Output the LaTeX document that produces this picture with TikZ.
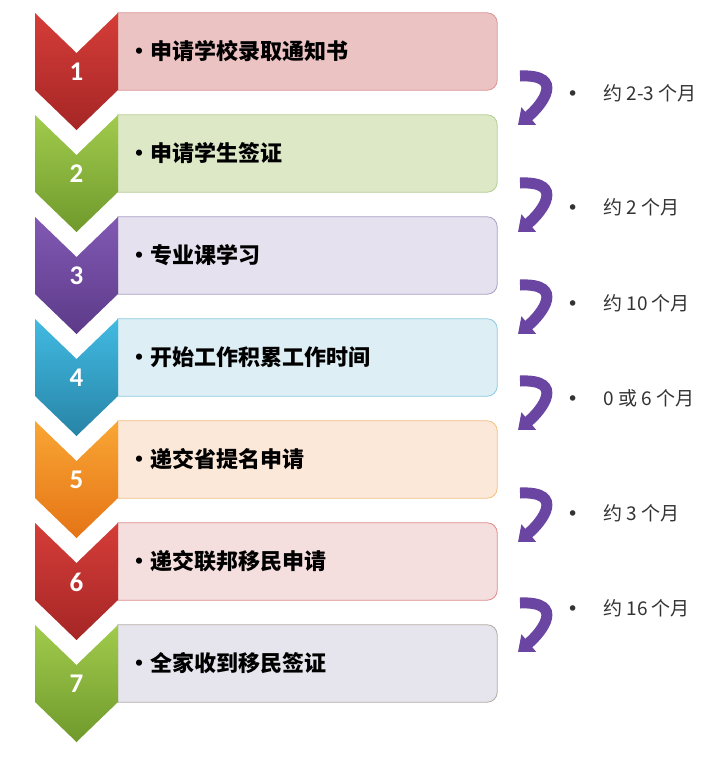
\documentclass[tikz,border=0pt]{standalone}
\usepackage{fontspec}
\setmainfont{Noto Sans CJK SC}
\newfontfamily\numfont{Carlito}
\newfontfamily\symfont{DejaVu Sans}
\usepackage{tikz}
\usetikzlibrary{arrows.meta, positioning}
\definecolor{box1}{HTML}{EBC3C3}\definecolor{line1}{HTML}{DC9494}
\definecolor{box2}{HTML}{DCE8C6}\definecolor{line2}{HTML}{B6CF96}
\definecolor{box3}{HTML}{E5E1EF}\definecolor{line3}{HTML}{A9A1C3}
\definecolor{box4}{HTML}{DDEEF5}\definecolor{line4}{HTML}{8ECBE0}
\definecolor{box5}{HTML}{FCE8D9}\definecolor{line5}{HTML}{F3C082}
\definecolor{box6}{HTML}{F4DEDE}\definecolor{line6}{HTML}{DF8C8C}
\definecolor{box7}{HTML}{E6E4ED}\definecolor{line7}{HTML}{B4ACA4}
\definecolor{redtop}{HTML}{D53D38}\definecolor{redbot}{HTML}{A52626}
\definecolor{greentop}{HTML}{A1CB4C}\definecolor{greenbot}{HTML}{6F9A2C}
\definecolor{purpletop}{HTML}{8159B3}\definecolor{purplebot}{HTML}{5D3A89}
\definecolor{bluetop}{HTML}{42BAE2}\definecolor{bluebot}{HTML}{2784A6}
\definecolor{orangetop}{HTML}{F9A634}\definecolor{orangebot}{HTML}{E57416}
\definecolor{turnpurple}{HTML}{6A45A2}
\tikzset{
stepbox/.style={shape=rectangle, minimum width=379pt, minimum height=77pt, inner sep=0}, boxline/.style={line width=0.8pt}, steptext/.style={anchor=west, inner sep=0, font=\bfseries\fontsize{22}{25}\selectfont}, stepnum/.style={text=white, inner sep=0, font=\numfont\bfseries\fontsize{27}{30}\selectfont}, timetext/.style={anchor=west, inner sep=0, text=black!80, font=\fontsize{19}{23}\selectfont}, turn/.style={draw=turnpurple, line width=11pt, -{Triangle[width=22pt, length=14pt]}}}
\begin{document}
\begin{tikzpicture}[x=1pt, y=-1pt]
\fill [white] (0,0) rectangle (714,758);
\useasboundingbox (0,0) rectangle (714,758);
\foreach \txt/\tc/\bc [count=\j, evaluate={\yy=13+102*(\j-1);}] in {申请学校录取通知书/redtop/redbot, 申请学生签证/greentop/greenbot, 专业课学习/purpletop/purplebot, 开始工作积累工作时间/bluetop/bluebot, 递交省提名申请/orangetop/orangebot, 递交联邦移民申请/redtop/redbot, 全家收到移民签证/greentop/greenbot}{
      \node [stepbox] at (307.5, \yy+38.5) (box-\j) {};
      \draw [boxline, fill=box\j, draw=line\j] (box-\j.north west) -- ([xshift=-10pt]box-\j.north east) arc [start angle=90, end angle=0, radius=10pt] -- ([yshift=10pt]box-\j.south east) arc [start angle=0, end angle=-90, radius=10pt] -- (box-\j.south west) -- cycle;
      \shade [top color=\tc, bottom color=\bc] (35,\yy) -- (76.5,\yy+40) -- (118,\yy) -- (118,\yy+77) -- (76.5,\yy+117) -- (35,\yy+77) -- cycle;
      \node [stepnum] at (76.5, \yy+59) (num-\j) {\j};
      \node [steptext] at ([xshift=10pt]box-\j.west) (txt-\j) {\textbullet\hspace{1pt}\txt};
}
\foreach \ay/\ty/\tlabel [count=\k] in {68/93/约 2-3 个月, 175/207/约 2 个月, 277/303/约 10 个月, 373/398/0 或 6 个月, 485/513/约 3 个月, 595/608/约 16 个月}{
      \coordinate (turn-s-\k) at (520, \ay+8);
      \coordinate (turn-e-\k) at (518, \ay+57);
      \draw [turn] (turn-s-\k) .. controls +(46,-2) and +(24,-20) .. (turn-e-\k);
      \node [timetext] at (567, \ty) (time-\k) {{\symfont\textbullet}\hspace{25pt}\tlabel};
}
\end{tikzpicture}
\end{document}
